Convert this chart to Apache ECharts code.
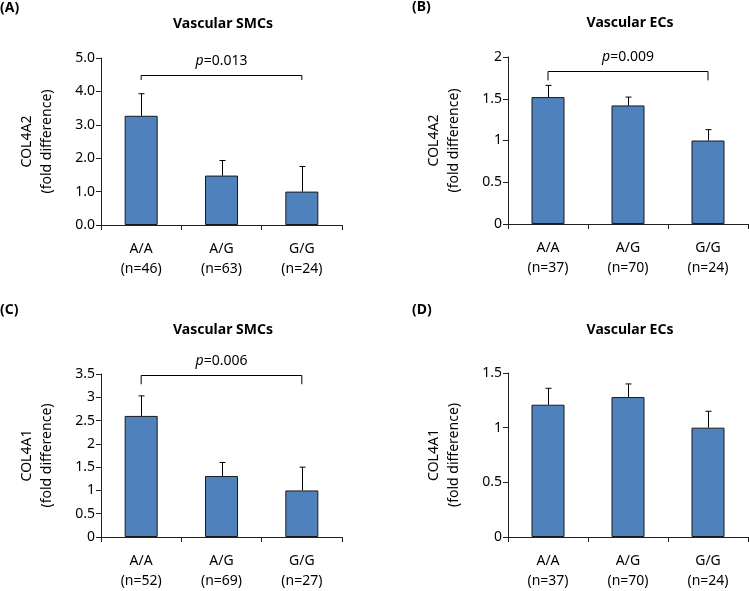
<!DOCTYPE html>
<html>
<head>
<meta charset="utf-8">
<script src="https://cdn.jsdelivr.net/npm/echarts@6/dist/echarts.min.js"></script>
<style>html,body{margin:0;padding:0;background:#fff}#c{width:749px;height:591px}</style>
</head>
<body>
<div id="c"></div>
<script>
// ---- data ----
var genotypes = ['A/A', 'A/G', 'G/G'];
var nA = ['(n=46)', '(n=63)', '(n=24)'];
var nB = ['(n=37)', '(n=70)', '(n=24)'];
var nC = ['(n=52)', '(n=69)', '(n=27)'];
var nD = ['(n=37)', '(n=70)', '(n=24)'];

var meanA = [3.27, 1.48, 1.0];
var errTopA = [3.93, 1.93, 1.75];
var meanB = [1.52, 1.42, 1.0];
var errTopB = [1.66, 1.52, 1.13];
var meanC = [2.6, 1.31, 1.0];
var errTopC = [3.03, 1.6, 1.5];
var meanD = [1.21, 1.28, 1.0];
var errTopD = [1.36, 1.40, 1.15];

var titles = ['Vascular SMCs', 'Vascular ECs', 'Vascular SMCs', 'Vascular ECs'];
var panelTags = ['(A)', '(B)', '(C)', '(D)'];
var yNames = ['COL4A2', 'COL4A2', 'COL4A1', 'COL4A1'];
var yMax = [5, 2, 3.5, 1.5];
var yStep = [1, 0.5, 0.5, 0.5];
var yDecimals = [1, -1, -1, -1];

// bracket: [fromCat, toCat, bracketValue, legBottomValue], p label
var bracketA = [0, 2, 4.48, 4.34]; var pA = '0.013';
var bracketB = [0, 2, 1.83, 1.72]; var pB = '0.009';
var bracketC = [0, 2, 3.47, 3.28]; var pC = '0.006';

// ---- layout ----
var FONT = '"Noto Sans", "Open Sans", sans-serif';
var grids = [
  {left: 101, top: 58, width: 241, height: 167},
  {left: 508, top: 57, width: 240, height: 167},
  {left: 101, top: 374, width: 241, height: 166},
  {left: 508, top: 373, width: 240, height: 167}
];
var titlePos = [[223, 24], [630, 23], [223, 330], [630, 330]];
var tagPos = [[0, 8], [412, 7], [0, 310], [412, 310]];
var means = [meanA, meanB, meanC, meanD];
var errs = [errTopA, errTopB, errTopC, errTopD];
var ns = [nA, nB, nC, nD];
var brackets = [[bracketA, pA], [bracketB, pB], [bracketC, pC], null];

var axisColor = '#222';
var option = {
  backgroundColor: '#fff',
  animation: false,
  grid: grids.map(function (g) { return Object.assign({containLabel: false}, g); }),
  xAxis: [], yAxis: [], series: [], graphic: []
};

for (var i = 0; i < 4; i++) {
  (function (i) {
    var nlist = ns[i];
    option.xAxis.push({
      type: 'category', gridIndex: i, data: genotypes,
      boundaryGap: true,
      axisLine: {lineStyle: {color: axisColor, width: 1}},
      axisTick: {show: true, length: 5, lineStyle: {color: axisColor}},
      axisLabel: {
        margin: 14, color: '#000', fontFamily: FONT, fontSize: 14, lineHeight: 20,
        formatter: function (v, idx) { return v + '\n' + nlist[idx]; }
      },
      splitLine: {show: false}
    });
    option.yAxis.push({
      type: 'value', gridIndex: i, min: 0, max: yMax[i], interval: yStep[i],
      name: yNames[i] + '\n(fold difference)', nameLocation: 'middle', nameGap: 44,
      nameTextStyle: {color: '#000', fontFamily: FONT, fontSize: 14, lineHeight: 20},
      axisLine: {show: true, lineStyle: {color: axisColor, width: 1}},
      axisTick: {show: true, length: 5, lineStyle: {color: axisColor}},
      axisLabel: {
        margin: 6, color: '#000', fontFamily: FONT, fontSize: 14,
        formatter: function (v) { return yDecimals[i] > 0 ? v.toFixed(yDecimals[i]) : String(v); }
      },
      splitLine: {show: false}
    });
    option.series.push({
      type: 'bar', xAxisIndex: i, yAxisIndex: i, data: means[i], barWidth: 33,
      itemStyle: {color: '#4F81BD', borderColor: '#1a1a1a', borderWidth: 1}
    });
    var errData = means[i].map(function (m, k) { return [k, m, errs[i][k]]; });
    option.series.push({
      type: 'custom', xAxisIndex: i, yAxisIndex: i, data: errData, z: 5,
      encode: {x: 0, y: [1, 2]},
      renderItem: function (params, api) {
        var p0 = api.coord([api.value(0), api.value(1)]);
        var p1 = api.coord([api.value(0), api.value(2)]);
        var x = Math.round(p0[0]) + 0.5;
        return {
          type: 'group', children: [
            {type: 'line', shape: {x1: x, y1: p0[1], x2: x, y2: p1[1]}, style: {stroke: '#000', lineWidth: 1}},
            {type: 'line', shape: {x1: x - 3, y1: p1[1], x2: x + 3, y2: p1[1]}, style: {stroke: '#000', lineWidth: 1}}
          ]
        };
      }
    });
    if (brackets[i]) {
      var b = brackets[i][0], plabel = brackets[i][1];
      option.series.push({
        type: 'custom', xAxisIndex: i, yAxisIndex: i, data: [b], z: 6, clip: false,
        encode: {x: [0, 1], y: [2, 3]},
        renderItem: function (params, api) {
          var a = api.coord([api.value(0), api.value(2)]);
          var c = api.coord([api.value(1), api.value(2)]);
          var l = api.coord([api.value(0), api.value(3)]);
          var y = Math.round(a[1]) + 0.5;
          return {
            type: 'group', children: [
              {type: 'polyline', shape: {points: [[a[0], l[1]], [a[0], y], [c[0], y], [c[0], l[1]]]},
               style: {stroke: '#000', lineWidth: 1, fill: null}},
              {type: 'text', x: (a[0] + c[0]) / 2, y: y - 14,
               style: {text: '{i|p}=' + plabel, fill: '#000', font: '14px ' + FONT,
                       align: 'center', verticalAlign: 'middle',
                       rich: {i: {fontStyle: 'italic', fontFamily: FONT, fontSize: 14}}}}
            ]
          };
        }
      });
    }
    option.graphic.push({
      type: 'text', x: titlePos[i][0], y: titlePos[i][1],
      style: {text: titles[i], fill: '#000', font: 'bold 14px ' + FONT, align: 'center', verticalAlign: 'middle'}
    });
    option.graphic.push({
      type: 'text', x: tagPos[i][0], y: tagPos[i][1],
      style: {text: panelTags[i], fill: '#000', font: 'bold 14px ' + FONT, align: 'left', verticalAlign: 'middle'}
    });
  })(i);
}

var chart = echarts.init(document.getElementById('c'), null, {renderer: 'canvas'});
chart.setOption(option);
</script>
</body>
</html>
